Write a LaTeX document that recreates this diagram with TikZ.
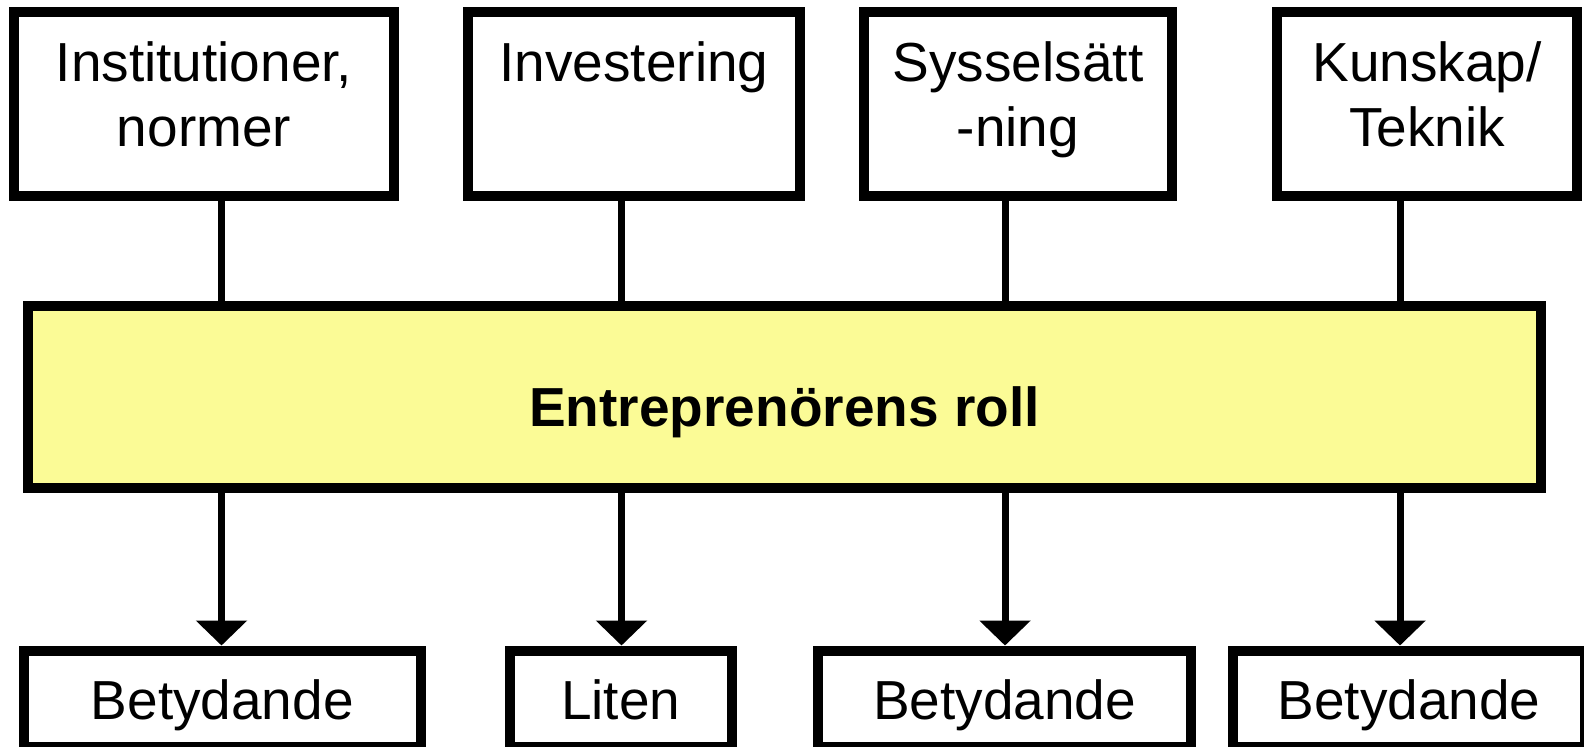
\documentclass[tikz,border=0pt]{standalone}
\usepackage{fontspec}
\setmainfont{Liberation Sans}
\usepackage{tikz}
\usetikzlibrary{arrows}
\usetikzlibrary{arrows.meta}
\definecolor{rollyellow}{HTML}{FBFB96}
% box text: [baseline drop]{width}{height}{text}
\newcommand{\boxtext}[4][34.5pt]{\parbox[c][#3][t]{#2}{\centering\rule{0pt}{#1}#4}}

\begin{document}
\begin{tikzpicture}[x=0.5pt,y=-0.5pt,
  box/.style={draw,line width=5pt,inner sep=0pt,fill=white},
  link/.style={line width=3.5pt},
  font=\fontsize{27.5}{32.5}\selectfont]
\useasboundingbox (0,0) rectangle (1584,746);
% factors
\node[box] (inst) at (204,103.75) {\boxtext{190pt}{91.75pt}{Institutioner,\\normer}};
\node[box] (inv) at (634,103.75) {\boxtext{166pt}{91.75pt}{Investering}};
\node[box] (syss) at (1018,103.75) {\boxtext{154pt}{91.75pt}{Sysselsätt\\-ning}};
\node[box] (kun) at (1427,103.75) {\boxtext{150pt}{91.75pt}{Kunskap/\\Teknik}};
% role
\node[box,fill=rollyellow] (role) at (784.5,396.75) {\boxtext[60.25pt]{756.5pt}{91.25pt}{\textbf{Entreprenörens roll}}};
% results
\node[box] (res1) at (222.25,698.75) {\boxtext{198.75pt}{48.25pt}{Betydande}};
\node[box] (res2) at (620.75,698.75) {\boxtext{111.25pt}{48.25pt}{Liten}};
\node[box] (res3) at (1004.5,698.75) {\boxtext{186.5pt}{48.25pt}{Betydande}};
\node[box] (res4) at (1409,698.75) {\boxtext{176pt}{48.25pt}{Betydande}};
% line positions
\coordinate (x1) at (221.5,0);
\coordinate (x2) at (621.5,0);
\coordinate (x3) at (1005,0);
\coordinate (x4) at (1400,0);
\draw[link] (inst.south -| x1) -- (role.north -| x1);
\draw[link] (inv.south -| x2) -- (role.north -| x2);
\draw[link] (syss.south -| x3) -- (role.north -| x3);
\draw[link] (kun.south -| x4) -- (role.north -| x4);
\draw[link,-{Triangle[width=25pt,length=12.5pt]}] (role.south -| x1) -- (res1.north -| x1);
\draw[link,-{Triangle[width=25pt,length=12.5pt]}] (role.south -| x2) -- (res2.north -| x2);
\draw[link,-{Triangle[width=25pt,length=12.5pt]}] (role.south -| x3) -- (res3.north -| x3);
\draw[link,-{Triangle[width=25pt,length=12.5pt]}] (role.south -| x4) -- (res4.north -| x4);
\end{tikzpicture}
\end{document}
